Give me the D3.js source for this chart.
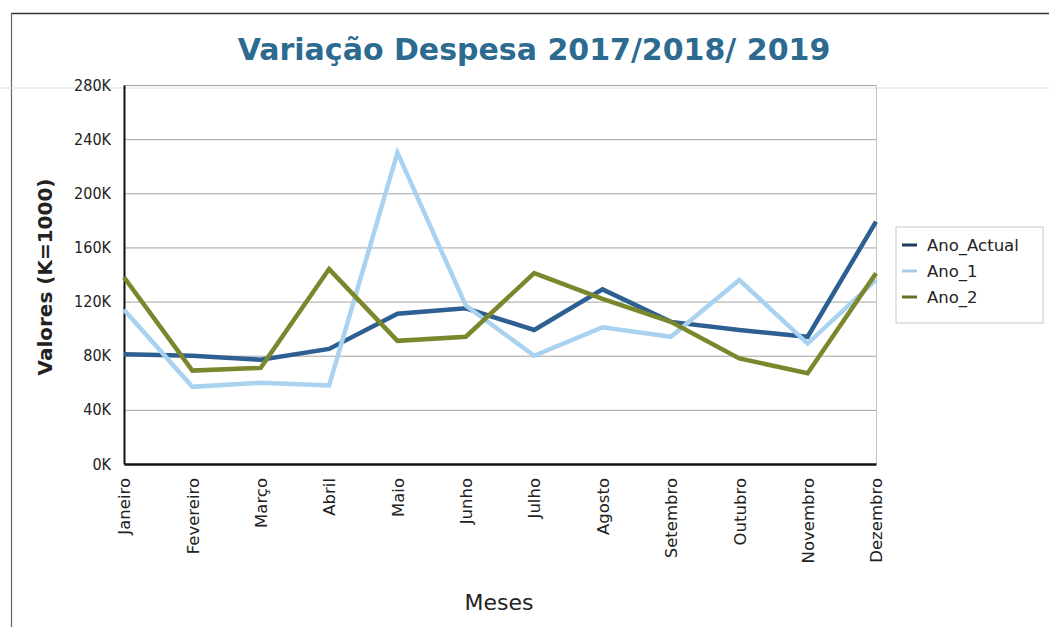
<!DOCTYPE html>
<html>
<head>
<meta charset="utf-8">
<script src="https://cdn.jsdelivr.net/npm/d3@7"></script>
<style>
  body { margin: 0; background: #fff; }
  svg { display: block; }
</style>
</head>
<body>
<div class="chart_wrapper"></div>
<script>
// values in thousands (K=1000)
var months = ['Janeiro', 'Fevereiro', 'Março', 'Abril', 'Maio', 'Junho', 'Julho', 'Agosto', 'Setembro', 'Outubro', 'Novembro', 'Dezembro'];
var anoActual = [81, 80, 77, 85, 111, 115, 99, 129, 105, 99, 94, 179];
var ano1 = [114, 57, 60, 58, 230, 117, 80, 101, 94, 136, 89, 136];
var ano2 = [138, 69, 71, 144, 91, 94, 141, 122, 105, 78, 67, 141];
var yTicks = [0, 40, 80, 120, 160, 200, 240, 280];
var seriesNames = ['Ano_Actual', 'Ano_1', 'Ano_2'];

(function () {
  var width = 1049;
  var height = 627;
  var plotLeft = 124, plotRight = 876, plotTop = 85, plotBottom = 464;

  var lineColor = ['#2d5f93', '#a8d2ef', '#7a872c'];
  var legendColor = ['#1d3b5e', '#a8cbe6', '#66702a'];

  var svg = d3.select('.chart_wrapper').append('svg')
    .attr('width', width).attr('height', height);

  // outer frame (only top and left edges visible)
  svg.append('line').attr('x1', 11).attr('x2', width).attr('y1', 13.5).attr('y2', 13.5)
    .attr('stroke', '#333').attr('stroke-width', 1.5);
  svg.append('line').attr('x1', 11.5).attr('x2', 11.5).attr('y1', 13).attr('y2', height)
    .attr('stroke', '#666').attr('stroke-width', 1.2);

  // faint scan line
  svg.append('line').attr('x1', 0).attr('x2', width).attr('y1', 88).attr('y2', 88)
    .attr('stroke', '#cfe0e8').attr('stroke-width', 1.2);

  var x = d3.scalePoint().domain(months).range([plotLeft, plotRight]);
  var y = d3.scaleLinear().domain([0, 280]).range([plotBottom, plotTop]);

  // grid
  svg.append('g').selectAll('line').data(yTicks.slice(1)).enter().append('line')
    .attr('x1', plotLeft).attr('x2', plotRight)
    .attr('y1', function (d) { return y(d) + 0.5; })
    .attr('y2', function (d) { return y(d) + 0.5; })
    .attr('stroke', '#a3a3a3').attr('stroke-width', 1);

  // right edge of plot
  svg.append('line').attr('x1', plotRight + 0.5).attr('x2', plotRight + 0.5)
    .attr('y1', plotTop).attr('y2', plotBottom)
    .attr('stroke', '#c4c4c4');

  // y axis
  var yAxis = svg.append('g').attr('transform', 'translate(' + plotLeft + ',0)')
    .call(d3.axisLeft(y).tickValues(yTicks).tickSize(0).tickPadding(13)
      .tickFormat(function (d) { return d + 'K'; }));
  yAxis.select('.domain').attr('stroke', '#111').attr('stroke-width', 2);
  yAxis.selectAll('text').attr('font-family', 'DejaVu Sans Condensed, DejaVu Sans')
    .attr('font-size', 16).attr('fill', '#222');

  // x axis
  var xAxis = svg.append('g').attr('transform', 'translate(0,' + plotBottom + ')')
    .call(d3.axisBottom(x).tickSize(0).tickPadding(0));
  xAxis.select('.domain').attr('stroke', '#111').attr('stroke-width', 2.5);
  xAxis.selectAll('text')
    .attr('font-family', 'DejaVu Sans').attr('font-size', 16.5).attr('fill', '#222')
    .attr('transform', 'rotate(-90)')
    .attr('text-anchor', 'end')
    .attr('x', -14).attr('y', 0).attr('dy', '0.35em');

  // lines
  var line = d3.line()
    .x(function (d, i) { return x(months[i]); })
    .y(function (d) { return y(d); });

  [anoActual, ano1, ano2].forEach(function (s, k) {
    svg.append('path').datum(s)
      .attr('d', line)
      .attr('fill', 'none')
      .attr('stroke', lineColor[k])
      .attr('stroke-width', 4.5)
      .attr('stroke-linejoin', 'miter');
  });

  // title
  svg.append('text').attr('x', 534).attr('y', 60).attr('text-anchor', 'middle')
    .attr('font-family', 'DejaVu Sans').attr('font-weight', 'bold').attr('font-size', 30)
    .attr('fill', '#2d6a90')
    .text('Variação Despesa 2017/2018/ 2019');

  // axis titles
  svg.append('text').attr('transform', 'translate(52,277) rotate(-90)').attr('text-anchor', 'middle')
    .attr('font-family', 'DejaVu Sans').attr('font-weight', 'bold').attr('font-size', 20)
    .attr('fill', '#222')
    .text('Valores (K=1000)');

  svg.append('text').attr('x', 499).attr('y', 610).attr('text-anchor', 'middle')
    .attr('font-family', 'DejaVu Sans').attr('font-size', 22)
    .attr('fill', '#222')
    .text('Meses');

  // legend
  var legend = svg.append('g').attr('transform', 'translate(896,227)');
  legend.append('rect').attr('width', 147).attr('height', 96)
    .attr('fill', '#fff').attr('stroke', '#c8c8c8');
  var item = legend.selectAll('.legend').data(seriesNames).enter().append('g')
    .attr('class', 'legend')
    .attr('transform', function (d, i) { return 'translate(0,' + (18 + i * 26) + ')'; });
  item.append('line').attr('x1', 6).attr('x2', 21).attr('y1', 0).attr('y2', 0)
    .attr('stroke', function (d, i) { return legendColor[i]; }).attr('stroke-width', 3);
  item.append('text').attr('x', 31).attr('dy', '0.35em')
    .attr('font-family', 'DejaVu Sans').attr('font-size', 16.5).attr('fill', '#222')
    .text(function (d) { return d; });
})();
</script>
</body>
</html>
